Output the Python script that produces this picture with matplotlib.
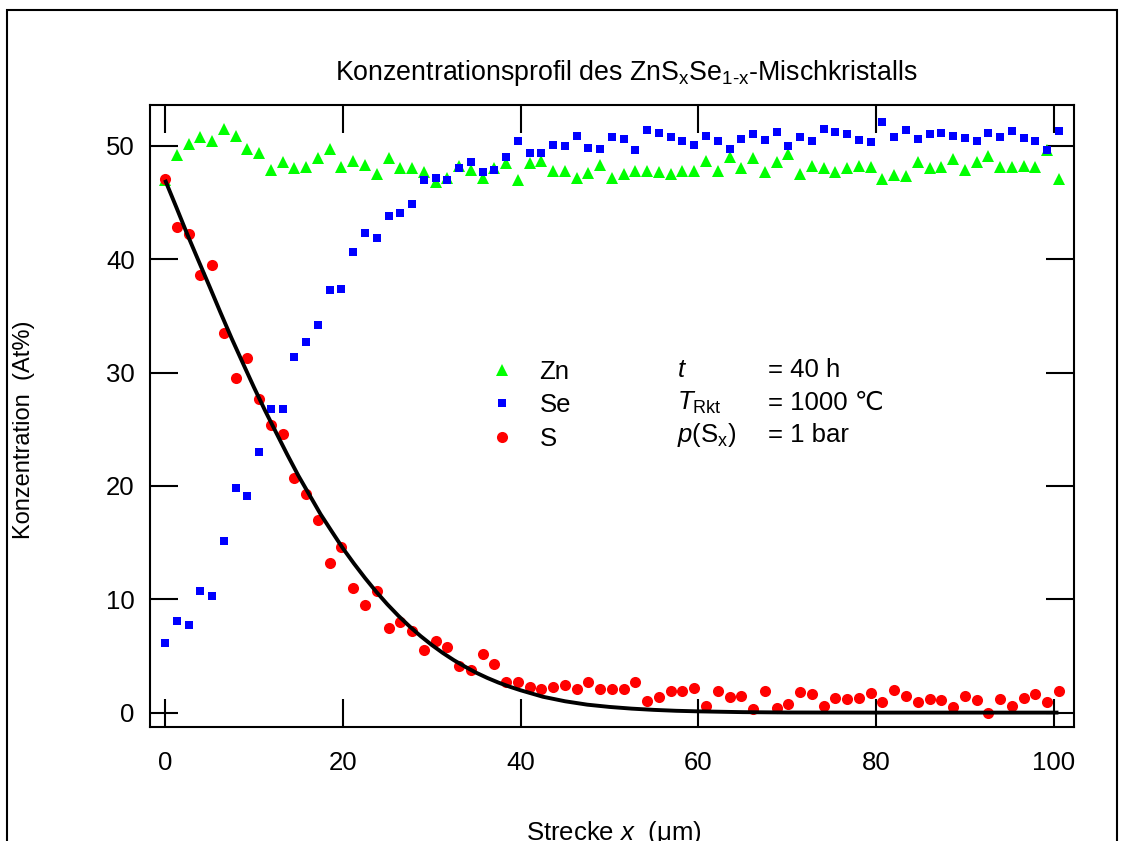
import matplotlib
matplotlib.use('Agg')
import matplotlib.pyplot as plt
from matplotlib.patches import Rectangle

plt.rcParams['font.family'] = ['Liberation Sans', 'DejaVu Sans']
plt.rcParams['mathtext.fontset'] = 'custom'
plt.rcParams['mathtext.rm'] = 'Liberation Sans'
plt.rcParams['mathtext.it'] = 'Liberation Sans:italic'
plt.rcParams['mathtext.bf'] = 'Liberation Sans:bold'

# ---------------- data ----------------
x_um = [0.00, 1.32, 2.65, 3.97, 5.29, 6.62, 7.94, 9.26, 10.58, 11.91,
        13.23, 14.55, 15.88, 17.20, 18.52, 19.85, 21.17, 22.49, 23.81, 25.14,
        26.46, 27.78, 29.11, 30.43, 31.75, 33.08, 34.40, 35.72, 37.04, 38.37,
        39.69, 41.01, 42.34, 43.66, 44.98, 46.31, 47.63, 48.95, 50.27, 51.60,
        52.92, 54.24, 55.57, 56.89, 58.21, 59.54, 60.86, 62.18, 63.50, 64.83,
        66.15, 67.47, 68.80, 70.12, 71.44, 72.77, 74.09, 75.41, 76.73, 78.06,
        79.38, 80.70, 82.03, 83.35, 84.67, 86.00, 87.32, 88.64, 89.96, 91.29,
        92.61, 93.93, 95.26, 96.58, 97.90, 99.23, 100.55]

zn = [47.0, 49.2, 50.2, 50.8, 50.4, 51.5, 50.9, 49.7, 49.4, 47.9,
      48.6, 48.0, 48.1, 48.9, 49.7, 48.1, 48.7, 48.3, 47.5, 48.9,
      48.0, 48.0, 47.7, 46.8, 47.2, 48.2, 47.9, 47.2, 48.0, 48.5,
      47.0, 48.5, 48.7, 47.8, 47.8, 47.2, 47.6, 48.3, 47.2, 47.5,
      47.8, 47.8, 47.7, 47.5, 47.8, 47.8, 48.7, 47.8, 49.0, 48.0,
      48.9, 47.7, 48.6, 49.3, 47.5, 48.2, 48.0, 47.7, 48.0, 48.2,
      48.1, 47.1, 47.4, 47.3, 48.6, 48.0, 48.1, 48.8, 47.9, 48.6,
      49.1, 48.1, 48.1, 48.2, 48.1, 49.6, 47.1]

se = [6.1, 8.1, 7.7, 10.7, 10.3, 15.1, 19.8, 19.1, 23.0, 26.8,
      26.8, 31.4, 32.7, 34.2, 37.3, 37.4, 40.6, 42.3, 41.9, 43.8,
      44.1, 44.9, 47.0, 47.2, 47.0, 48.0, 48.6, 47.7, 47.9, 49.0,
      50.4, 49.4, 49.4, 50.1, 50.0, 50.9, 49.8, 49.7, 50.8, 50.6,
      49.6, 51.4, 51.1, 50.8, 50.4, 50.1, 50.9, 50.4, 49.7, 50.6,
      51.0, 50.5, 51.2, 50.0, 50.8, 50.4, 51.5, 51.2, 51.0, 50.5,
      50.3, 52.1, 50.8, 51.4, 50.6, 51.0, 51.1, 50.9, 50.7, 50.4,
      51.1, 50.8, 51.3, 50.7, 50.4, 49.6, 51.3]

s = [47.1, 42.8, 42.2, 38.6, 39.5, 33.5, 29.5, 31.3, 27.7, 25.4,
     24.6, 20.7, 19.3, 17.0, 13.2, 14.6, 11.0, 9.5, 10.7, 7.5,
     8.0, 7.2, 5.5, 6.3, 5.8, 4.1, 3.8, 5.2, 4.3, 2.7,
     2.7, 2.3, 2.1, 2.3, 2.4, 2.1, 2.7, 2.1, 2.1, 2.1,
     2.7, 1.0, 1.4, 1.9, 1.9, 2.2, 0.6, 1.9, 1.4, 1.5,
     0.3, 1.9, 0.4, 0.8, 1.8, 1.6, 0.6, 1.3, 1.2, 1.3,
     1.7, 0.9, 2.0, 1.5, 0.9, 1.2, 1.1, 0.5, 1.5, 1.1,
     0.0, 1.2, 0.6, 1.3, 1.6, 0.9, 1.9]

# fitted profile (black curve)
fit_x = [0, 1.25, 2.5, 3.75, 5, 6.25, 7.5, 8.75, 10, 11.25, 12.5, 13.75,
         15, 16.25, 17.5, 18.75, 20, 21.25, 22.5, 23.75, 25, 26.25, 27.5,
         28.75, 30, 31.25, 32.5, 33.75, 35, 36.25, 37.5, 38.75, 40, 42.5,
         45, 47.5, 50, 52.5, 55, 57.5, 60, 65, 70, 80, 90, 100.5]
fit_y = [47.0, 44.62, 42.2, 39.89, 37.6, 35.27, 33.0, 30.84, 28.7, 26.65,
         24.7, 22.76, 20.9, 19.20, 17.5, 15.99, 14.5, 13.15, 11.87, 10.67,
         9.56, 8.54, 7.61, 6.75, 5.97, 5.26, 4.62, 4.05, 3.52, 3.06, 2.65,
         2.29, 1.97, 1.4, 1.0, 0.7, 0.5, 0.35, 0.24, 0.16, 0.11, 0.04, 0.01,
         0.0, 0.0, 0.0]

x_ticks = [0, 20, 40, 60, 80, 100]
y_ticks = [0, 10, 20, 30, 40, 50]

series_labels = ['Zn', 'Se', 'S']
cond_names = [r'$t$', r'$T_\mathrm{Rkt}$', r'$p(\mathrm{S}_\mathrm{x})$']
cond_values = ['= 40 h', '= 1000 \u2103', '= 1 bar']

# ---------------- figure ----------------
W, H = 1126, 841
FS = 18.5
fig = plt.figure(figsize=(W / 100, H / 100), dpi=100)


def fx(px):
    return px / W


def fy(py):
    return 1 - py / H


ax = fig.add_axes([fx(150), fy(727), (1074 - 150) / W, (727 - 105) / H])

ax.plot(x_um, zn, linestyle='none', marker='^', ms=8.2, color='#00ff00',
        mec='#00ff00', mew=0, label=series_labels[0], zorder=3)
ax.plot(x_um, se, linestyle='none', marker='s', ms=6.3, color='#0000ff',
        mec='#0000ff', mew=0, label=series_labels[1], zorder=4)
ax.plot(x_um, s, linestyle='none', marker='o', ms=8.0, color='#ff0000',
        mec='#ff0000', mew=0, label=series_labels[2], zorder=5)
ax.plot(fit_x, fit_y, color='black', lw=2.8, zorder=6,
        solid_capstyle='butt', solid_joinstyle='round')

ax.set_xlim(-1.69, 102.25)
ax.set_ylim(-1.27, 53.6)
ax.set_xticks(x_ticks)
ax.set_yticks(y_ticks)
ax.tick_params(direction='in', length=20, width=1.5, top=True, right=True,
               labelsize=FS, colors='black')
ax.tick_params(axis='x', pad=17)
ax.tick_params(axis='y', pad=11)
for sp in ax.spines.values():
    sp.set_linewidth(1.5)

leg = ax.legend(loc='upper left', bbox_to_anchor=(fx(489), fy(360)),
                bbox_transform=fig.transFigure, frameon=False, fontsize=FS,
                borderpad=0, borderaxespad=0, handlelength=1.0,
                handletextpad=0.96, labelspacing=0.36, numpoints=1)

for i in range(3):
    base = [377, 409.5, 442][i]
    fig.text(fx(677), fy(base), cond_names[i], fontsize=FS, va='baseline',
             ha='left')
    fig.text(fx(768), fy(base), cond_values[i], fontsize=FS, va='baseline',
             ha='left')

fig.text(fx(626), fy(80),
         r'Konzentrationsprofil des ZnS$_\mathrm{x}$Se$_{\mathrm{1}\text{-}\mathrm{x}}$-Mischkristalls',
         fontsize=19.3, ha='center', va='baseline')
fig.text(fx(24), fy(430), 'Konzentration  (At%)', rotation=90, fontsize=17,
         ha='center', va='center')
fig.text(fx(614), fy(840), 'Strecke $x$  (\u03bcm)',
         fontsize=FS, ha='center', va='baseline')

fig.add_artist(Rectangle((fx(7), -0.05), (1117 - 7) / W, fy(10) + 0.05,
                         transform=fig.transFigure, fill=False, lw=1.5,
                         ec='black'))

fig.savefig('out.png', dpi=100)
